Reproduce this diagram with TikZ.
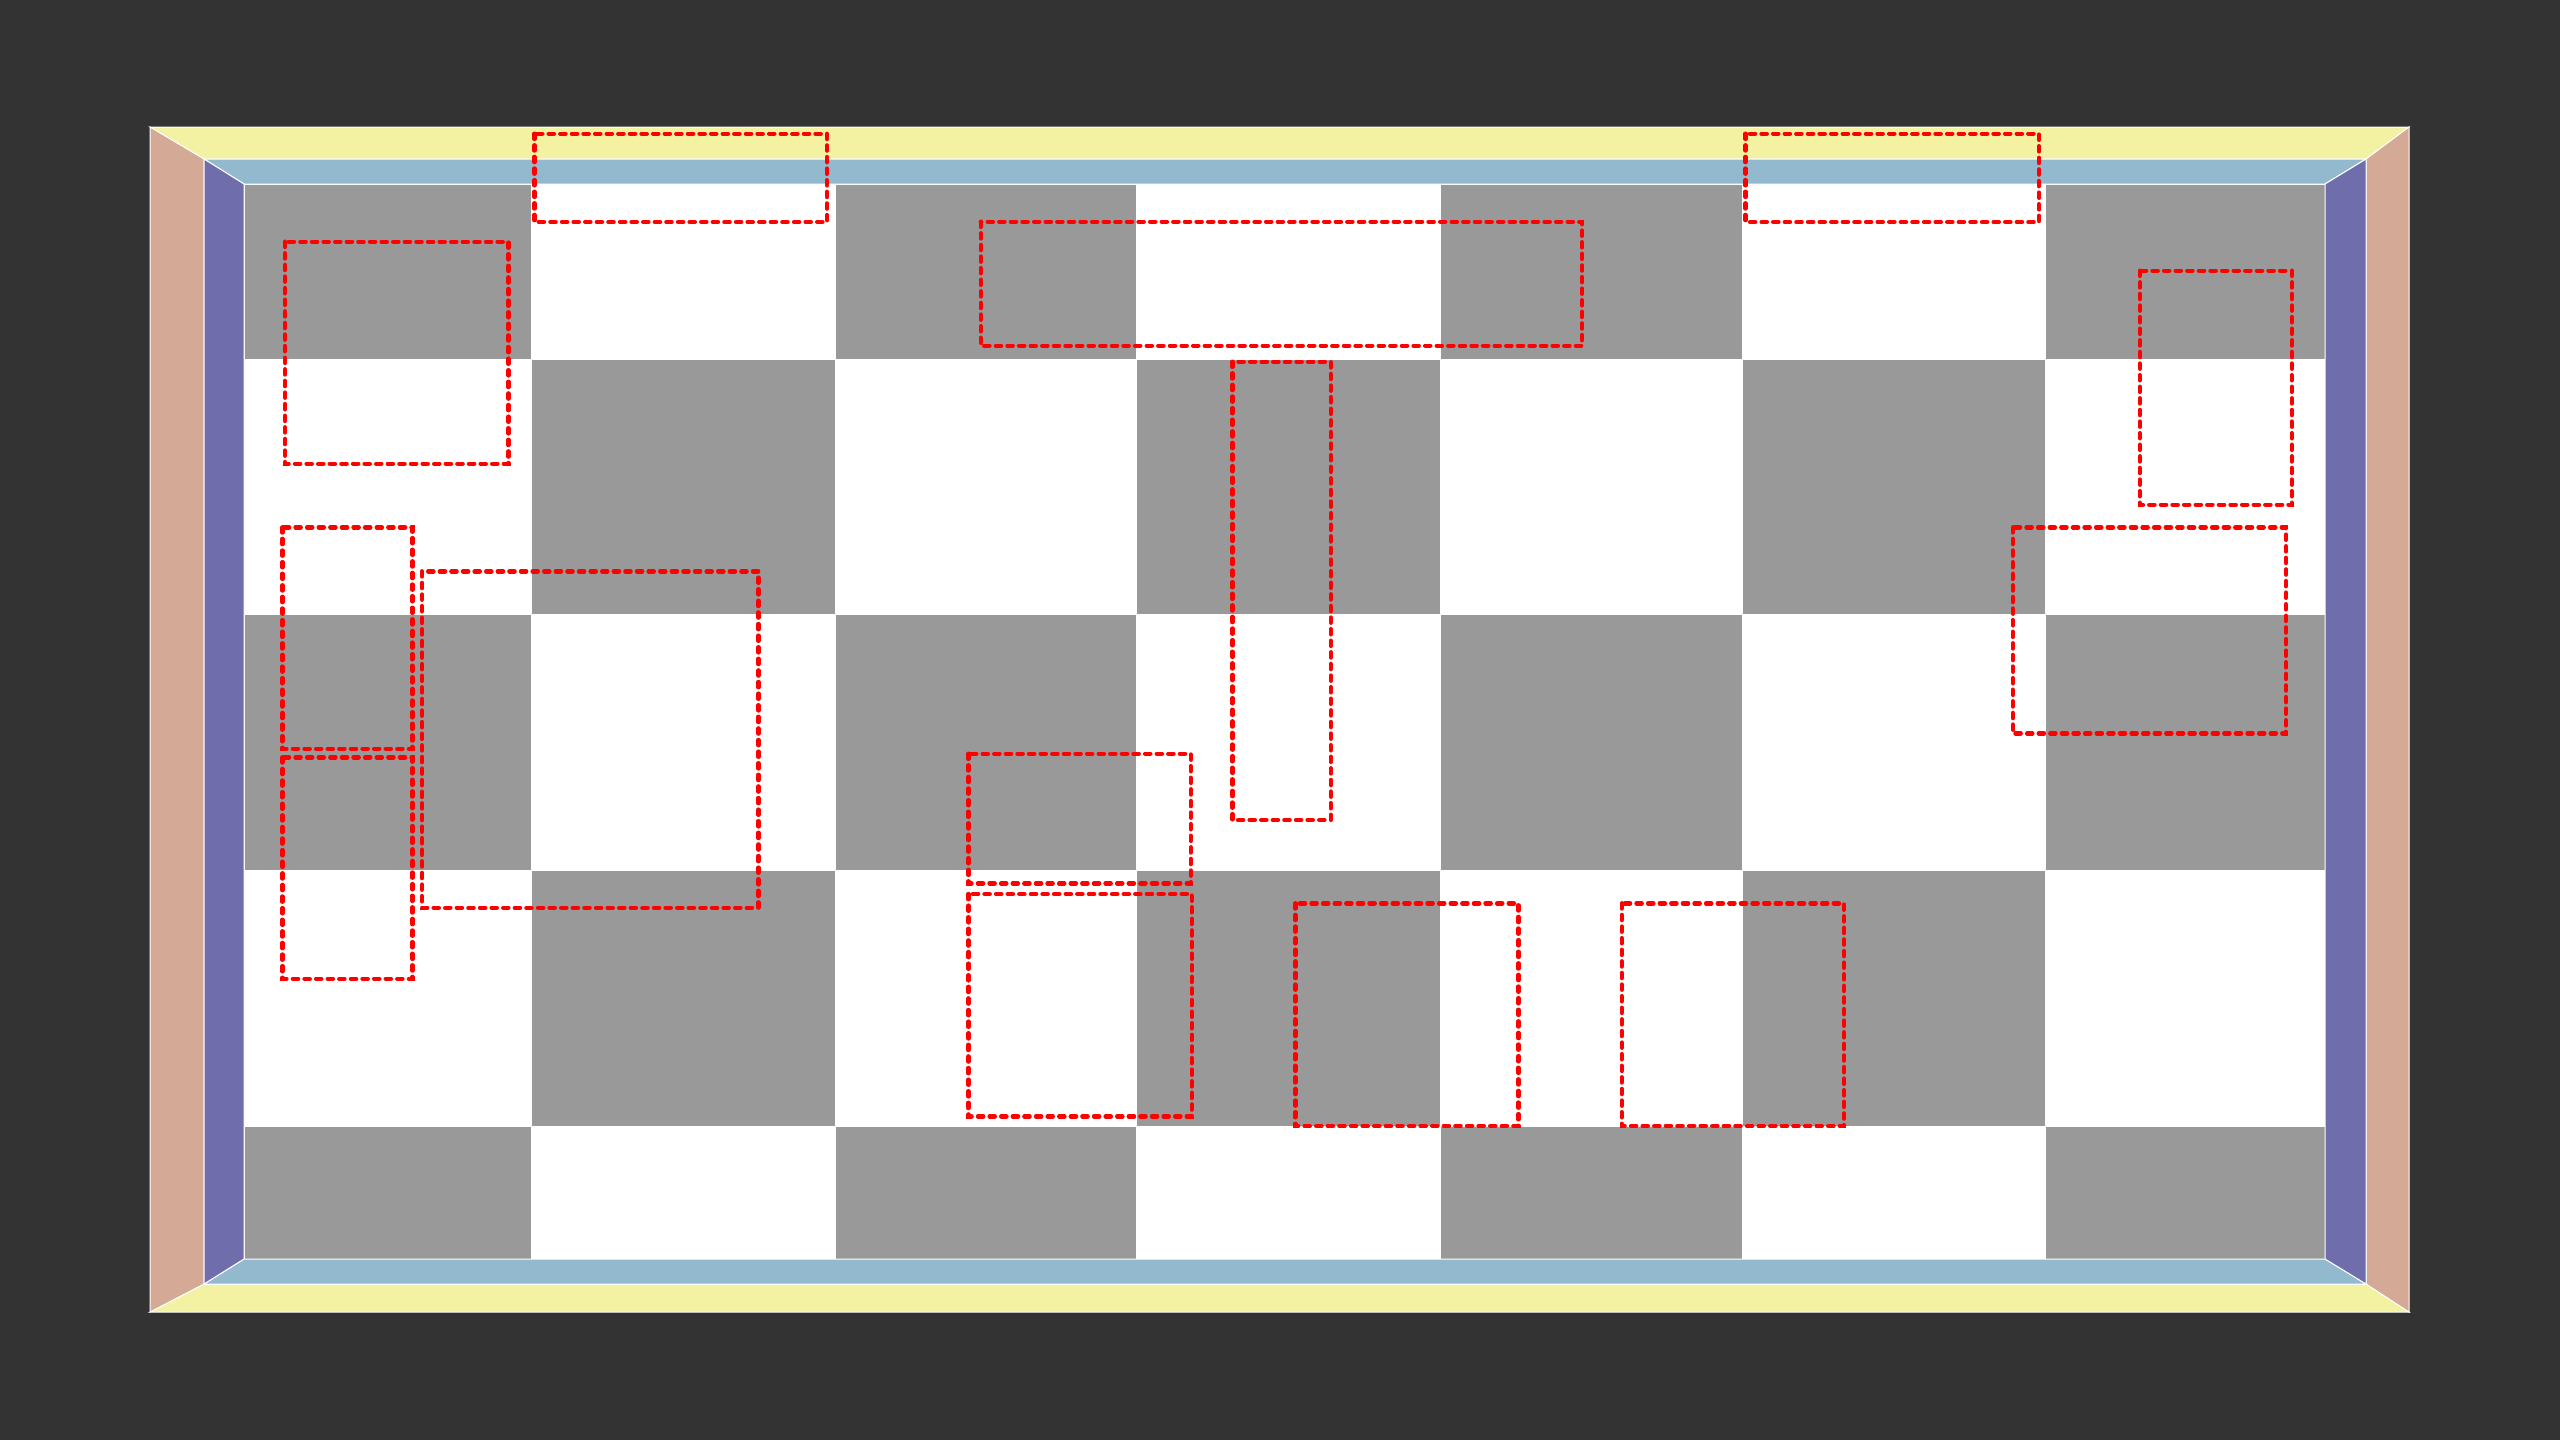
\documentclass[tikz,border=0pt]{standalone}
\definecolor{bgdark}{HTML}{333333}
\definecolor{wallyellow}{HTML}{F3F2A3}
\definecolor{wallbeige}{HTML}{D4AA96}
\definecolor{wallblue}{HTML}{92B9CE}
\definecolor{wallpurple}{HTML}{6F6DAB}
\definecolor{tilegray}{HTML}{999999}
\tikzset{
  wall/.style={draw=white, line width=0.5pt, line join=miter},
  tile/.style={fill=tilegray, draw=white, line width=0.5pt},
  zone/.style={draw=red, line width=2.2pt, line cap=round, dash pattern=on 2.6pt off 3.2pt}
}
\begin{document}
\begin{tikzpicture}[x=0.5pt,y=-0.5pt]
\useasboundingbox (0,0) rectangle (2560,1440);
\fill[bgdark] (0,0) rectangle (2560,1440);
% floor
\fill[white] (244,184) rectangle (2325,1259);
% checkerboard tiles
\foreach \xa/\xb/\ya/\yb in {
  244/531.5/184/359, 835/1136/184/359, 1440/1742.5/184/359, 2045.5/2325/184/359,
  531.5/835/359/614.5, 1136/1440/359/614.5, 1742.5/2045.5/359/614.5,
  244/531.5/614.5/870, 835/1136/614.5/870, 1440/1742.5/614.5/870, 2045.5/2325/614.5/870,
  531.5/835/870/1126.5, 1136/1440/870/1126.5, 1742.5/2045.5/870/1126.5,
  244/531.5/1126.5/1259, 835/1136/1126.5/1259, 1440/1742.5/1126.5/1259, 2045.5/2325/1126.5/1259}
  {\path[tile] (\xa,\ya) rectangle (\xb,\yb);}
% walls (outer)
\path[wall, fill=wallyellow] (150,127) -- (2409,127) -- (2366,159) -- (204,159) -- cycle;
\path[wall, fill=wallyellow] (150,1312) -- (2409,1312) -- (2366,1284) -- (204,1284) -- cycle;
\path[wall, fill=wallbeige] (150,127) -- (204,159) -- (204,1284) -- (150,1312) -- cycle;
\path[wall, fill=wallbeige] (2409,127) -- (2366,159) -- (2366,1284) -- (2409,1312) -- cycle;
% walls (inner)
\path[wall, fill=wallblue] (204,159) -- (2366,159) -- (2325,184) -- (244,184) -- cycle;
\path[wall, fill=wallblue] (204,1284) -- (2366,1284) -- (2325,1259) -- (244,1259) -- cycle;
\path[wall, fill=wallpurple] (204,159) -- (244,184) -- (244,1259) -- (204,1284) -- cycle;
\path[wall, fill=wallpurple] (2366,159) -- (2325,184) -- (2325,1259) -- (2366,1284) -- cycle;
% dashed zones
\draw[zone] (534.3,133.7) rectangle (827,222);
\draw[zone] (1745.5,133.7) rectangle (2039,222);
\draw[zone] (980.7,221.7) rectangle (1582,345.7);
\draw[zone] (285,241.7) rectangle (508.3,463.7);
\draw[zone] (2139.7,270.7) rectangle (2291.7,504.7);
\draw[zone] (1232.3,361.7) rectangle (1330.7,820);
\draw[zone] (282.3,527.3) rectangle (412.3,748.7);
\draw[zone] (422,571.3) rectangle (758.3,907.7);
\draw[zone] (2012.7,527.3) rectangle (2286,733.3);
\draw[zone] (282.3,757.3) rectangle (412.3,978.7);
\draw[zone] (968.3,753.7) rectangle (1190.7,883.3);
\draw[zone] (968.3,894) rectangle (1191.7,1116.3);
\draw[zone] (1295.3,903.3) rectangle (1518.3,1126);
\draw[zone] (1621.7,903.3) rectangle (1844,1126);
\end{tikzpicture}
\end{document}
